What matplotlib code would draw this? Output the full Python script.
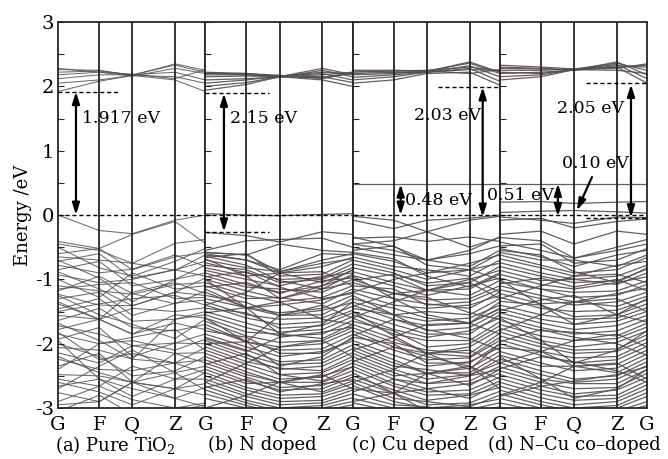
import matplotlib
matplotlib.use("Agg")
import matplotlib.pyplot as plt
from matplotlib.ticker import MultipleLocator

plt.rcParams['font.family'] = ['DejaVu Serif']
plt.rcParams['mathtext.fontset'] = 'dejavuserif'
plt.rcParams['axes.unicode_minus'] = False

# high-symmetry path, fractional position inside each panel
kpath = [0.0, 0.28, 0.505, 0.795, 1.0]
klabels = ['G', 'F', 'Q', 'Z', 'G']
titles = ['(a) Pure TiO$_{2}$', '(b) N doped', '(c) Cu deped', '(d) N\u2013Cu co\u2013doped']

# band energies (eV) at G, F, Q, Z, G
valence_a = [
    [0.00, -0.24, -0.29, -0.08, 0.00], [-0.41, -0.52, -0.30, -0.10, -0.44],
    [-0.45, -0.55, -0.75, -0.44, -0.38], [-0.60, -0.52, -0.85, -0.65, -0.58],
    [-0.65, -0.70, -0.75, -0.86, -0.62], [-0.72, -0.60, -0.98, -0.85, -0.72],
    [-0.78, -0.90, -0.84, -0.62, -0.80], [-0.85, -0.72, -1.10, -1.00, -0.90],
    [-0.93, -1.05, -1.00, -0.85, -0.95], [-1.10, -1.18, -1.23, -1.08, -1.05],
    [-1.18, -0.95, -1.22, -1.38, -1.18], [-1.23, -1.40, -1.41, -1.20, -1.25],
    [-1.30, -1.20, -1.56, -1.37, -1.32], [-1.38, -1.62, -1.45, -1.50, -1.44],
    [-1.46, -1.30, -1.65, -1.62, -1.50], [-1.56, -1.62, -1.85, -1.55, -1.60],
    [-1.64, -1.45, -1.75, -1.80, -1.70], [-1.72, -1.85, -2.03, -1.99, -1.85],
    [-1.78, -1.62, -1.85, -1.68, -1.78], [-1.85, -2.00, -1.95, -2.10, -1.93],
    [-1.93, -1.75, -2.20, -1.99, -2.00], [-2.06, -2.10, -2.24, -2.30, -2.06],
    [-2.14, -2.30, -2.03, -2.15, -2.14], [-2.24, -2.40, -2.42, -2.30, -2.25],
    [-2.35, -2.15, -2.60, -2.45, -2.35], [-2.48, -2.50, -2.60, -2.70, -2.45],
    [-2.55, -2.66, -2.35, -2.55, -2.55], [-2.66, -2.55, -2.70, -2.85, -2.68],
    [-2.76, -2.90, -2.60, -2.70, -2.80], [-2.90, -2.66, -2.87, -3.00, -2.92],
    [-2.95, -2.90, -2.60, -2.85, -2.98], [-1.00, -1.28, -0.90, -1.15, -1.10],
    [-0.50, -0.82, -0.95, -0.72, -0.52], [-1.50, -1.38, -1.30, -1.25, -1.40],
    [-2.00, -2.20, -2.50, -2.42, -2.20], [-2.60, -2.75, -2.95, -2.70, -2.62],
    [-1.25, -1.55, -1.70, -1.92, -1.62], [-1.82, -2.25, -2.15, -2.30, -2.46],
    [-2.40, -2.00, -1.90, -1.78, -2.10], [-3.05, -2.80, -3.10, -3.05, -2.95],
    [-0.70, -0.98, -1.35, -1.00, -0.78], [-1.15, -1.08, -1.05, -1.30, -1.28],
    [-1.35, -1.62, -1.20, -1.05, -1.22], [-1.68, -1.95, -2.24, -1.62, -1.55],
    [-2.20, -2.45, -2.60, -2.15, -2.30], [-2.70, -2.35, -2.10, -2.45, -2.72],
    [-0.88, -1.15, -1.41, -1.20, -0.98], [-1.95, -2.55, -2.82, -2.55, -2.40],
]
conduction_a = [
    [1.92, 2.08, 2.17, 2.10, 1.92], [2.05, 2.10, 2.17, 2.15, 2.05],
    [2.12, 2.18, 2.18, 2.22, 2.10], [2.18, 2.22, 2.16, 2.28, 2.20],
    [2.22, 2.24, 2.18, 2.33, 2.22], [2.26, 2.25, 2.17, 2.35, 2.25],
    [2.28, 2.22, 2.19, 2.12, 2.26],
]

valence_b = [
    [0.02, 0.00, -0.01, 0.01, 0.02], [-0.27, -0.32, -0.42, -0.26, -0.30],
    [-0.55, -0.40, -0.38, -0.36, -0.50], [-0.58, -0.62, -0.45, -0.55, -0.58],
    [-0.60, -0.70, -0.85, -0.60, -0.62],
    [-0.58, -0.62, -0.88, -0.70, -0.60], [-0.62, -0.70, -0.90, -0.80, -0.66],
    [-0.66, -0.60, -0.95, -0.92, -0.70], [-0.70, -0.82, -0.88, -0.75, -0.68],
    [-0.74, -0.90, -1.00, -0.98, -0.76], [-0.78, -0.85, -1.05, -1.00, -0.82],
    [-0.82, -0.95, -0.90, -1.05, -0.86], [-0.86, -1.00, -1.10, -0.95, -0.90],
    [-0.90, -1.08, -1.20, -1.10, -0.95], [-0.95, -1.12, -1.15, -1.20, -1.00],
    [-1.00, -1.18, -1.30, -1.15, -1.05], [-1.05, -1.25, -1.35, -1.28, -1.10],
    [-1.10, -1.30, -1.28, -1.38, -1.15], [-1.15, -1.44, -1.40, -1.32, -1.20],
    [-1.20, -1.44, -1.52, -1.45, -1.25], [-1.25, -1.36, -1.56, -1.55, -1.30],
    [-1.30, -1.44, -1.56, -1.48, -1.36], [-1.35, -1.55, -1.62, -1.60, -1.42],
    [-1.40, -1.60, -1.70, -1.66, -1.48], [-1.45, -1.52, -1.76, -1.72, -1.52],
    [-1.50, -1.68, -1.82, -1.78, -1.58], [-1.55, -1.75, -1.88, -1.85, -1.64],
    [-1.60, -1.82, -1.85, -1.92, -1.70], [-1.65, -1.88, -1.98, -1.95, -1.75],
    [-1.70, -1.97, -2.05, -2.00, -1.80], [-1.75, -1.97, -2.10, -2.08, -1.86],
    [-1.80, -1.90, -2.15, -2.15, -1.92], [-1.85, -2.05, -2.20, -2.12, -1.96],
    [-1.90, -2.10, -2.28, -2.25, -2.02], [-1.95, -2.18, -2.32, -2.30, -2.08],
    [-2.00, -2.22, -2.40, -2.35, -2.14], [-2.05, -2.28, -2.38, -2.42, -2.20],
    [-2.10, -2.32, -2.48, -2.45, -2.25], [-2.15, -2.38, -2.55, -2.52, -2.30],
    [-2.20, -2.44, -2.60, -2.50, -2.36], [-2.25, -2.48, -2.60, -2.60, -2.42],
    [-2.30, -2.52, -2.68, -2.65, -2.48], [-2.35, -2.58, -2.72, -2.70, -2.52],
    [-2.40, -2.62, -2.60, -2.75, -2.58], [-2.45, -2.68, -2.80, -2.78, -2.62],
    [-2.50, -2.72, -2.85, -2.82, -2.68], [-2.55, -2.78, -2.90, -2.88, -2.72],
    [-2.60, -2.82, -2.95, -2.92, -2.78], [-2.66, -2.88, -3.00, -2.96, -2.84],
    [-2.72, -2.92, -3.05, -3.00, -2.90], [-2.78, -2.96, -3.08, -3.04, -2.95],
    [-2.85, -3.00, -3.10, -3.08, -3.00],
    [-2.00, -1.97, -1.56, -1.40, -1.60], [-1.40, -1.20, -0.90, -0.88, -1.10],
    [-2.60, -2.30, -2.05, -1.95, -2.20], [-1.00, -1.44, -1.85, -1.70, -1.35],
    [-3.00, -2.80, -2.60, -2.48, -2.70], [-1.60, -1.97, -2.35, -2.20, -1.90],
    [-0.68, -0.95, -1.30, -1.10, -0.85], [-0.64, -0.78, -1.02, -1.15, -0.92],
    [-1.12, -1.05, -1.22, -1.02, -0.98], [-1.52, -1.44, -1.35, -1.62, -1.70],
    [-1.92, -2.12, -1.90, -1.82, -1.74], [-2.32, -2.15, -2.48, -2.58, -2.36],
    [-2.68, -2.55, -2.75, -2.62, -2.56], [-0.96, -0.88, -1.12, -1.30, -1.22],
]
conduction_b = [
    [1.94, 2.03, 2.15, 2.10, 2.00], [2.00, 2.06, 2.15, 2.15, 2.06],
    [2.05, 2.10, 2.16, 2.20, 2.10], [2.10, 2.12, 2.14, 2.25, 2.15],
    [2.15, 2.16, 2.15, 2.28, 2.18], [2.18, 2.18, 2.16, 2.22, 2.20],
    [2.20, 2.20, 2.15, 2.18, 2.22], [2.22, 2.20, 2.17, 2.12, 2.22],
    [2.21, 2.19, 2.16, 2.14, 2.21], [2.21, 2.18, 2.17, 2.13, 2.20],
]

valence_c = [
    [0.48, 0.48, 0.48, 0.48, 0.48],
    [-0.02, -0.08, -0.26, -0.08, -0.02], [-0.08, -0.21, -0.08, -0.05, 0.00],
    [-0.45, -0.40, -0.26, -0.50, -0.35], [-0.34, -0.49, -0.70, -0.55, -0.34],
    [-0.36, -0.34, -0.41, -0.34, -0.41],
    [-0.45, -0.55, -0.70, -0.60, -0.48], [-0.50, -0.62, -0.70, -0.80, -0.55],
    [-0.55, -0.48, -0.78, -0.85, -0.60], [-0.60, -0.72, -0.90, -0.75, -0.62],
    [-0.65, -0.80, -0.85, -0.95, -0.70], [-0.70, -0.85, -1.00, -0.85, -0.75],
    [-0.76, -0.90, -1.10, -1.05, -0.80], [-0.82, -0.95, -1.17, -1.00, -0.86],
    [-0.88, -1.05, -1.17, -1.15, -0.92], [-0.94, -1.10, -1.25, -1.10, -0.98],
    [-1.00, -1.22, -1.17, -1.25, -1.02], [-1.05, -1.22, -1.32, -1.30, -1.10],
    [-1.10, -1.15, -1.40, -1.35, -1.15], [-1.15, -1.30, -1.38, -1.45, -1.20],
    [-1.20, -1.40, -1.45, -1.40, -1.25], [-1.25, -1.55, -1.50, -1.55, -1.30],
    [-1.30, -1.45, -1.60, -1.68, -1.35], [-1.35, -1.55, -1.65, -1.60, -1.40],
    [-1.40, -1.62, -1.72, -1.68, -1.46], [-1.45, -1.55, -1.80, -1.75, -1.50],
    [-1.50, -1.70, -1.85, -1.85, -1.55], [-1.55, -1.78, -1.90, -1.80, -1.60],
    [-1.60, -1.85, -1.95, -1.95, -1.66], [-1.65, -1.80, -2.05, -2.00, -1.72],
    [-1.70, -1.92, -2.15, -2.05, -1.78], [-1.75, -1.98, -2.10, -2.15, -1.84],
    [-1.80, -2.05, -2.15, -2.20, -1.90], [-1.85, -2.10, -2.25, -2.22, -1.95],
    [-1.90, -2.00, -2.30, -2.30, -2.00], [-1.95, -2.18, -2.35, -2.28, -2.06],
    [-2.00, -2.25, -2.46, -2.38, -2.12], [-2.05, -2.30, -2.46, -2.45, -2.18],
    [-2.10, -2.35, -2.40, -2.50, -2.24], [-2.15, -2.40, -2.55, -2.48, -2.30],
    [-2.20, -2.45, -2.62, -2.58, -2.35], [-2.25, -2.50, -2.46, -2.65, -2.40],
    [-2.30, -2.55, -2.70, -2.62, -2.46], [-2.35, -2.62, -2.75, -2.72, -2.52],
    [-2.40, -2.66, -2.80, -2.78, -2.58], [-2.45, -2.77, -2.70, -2.85, -2.62],
    [-2.50, -2.72, -2.88, -2.80, -2.68], [-2.55, -2.77, -2.95, -2.92, -2.74],
    [-2.60, -2.85, -2.90, -2.98, -2.80], [-2.65, -2.90, -3.00, -2.95, -2.86],
    [-2.70, -2.77, -3.05, -3.02, -2.92], [-2.78, -2.95, -2.98, -3.08, -2.98],
    [-2.85, -3.00, -3.10, -3.05, -3.02], [-2.92, -3.05, -3.10, -3.10, -3.06],
    [-1.20, -1.00, -0.90, -0.85, -1.00], [-1.60, -1.35, -1.17, -1.05, -1.30],
    [-2.10, -1.90, -1.70, -1.68, -1.85], [-2.60, -2.40, -2.15, -2.10, -2.30],
    [-2.90, -2.77, -2.46, -2.35, -2.70], [-0.95, -1.30, -1.55, -1.68, -1.45],
    [-1.50, -1.88, -2.15, -2.40, -2.00], [-0.58, -0.68, -0.95, -1.12, -0.90],
    [-1.02, -0.92, -1.06, -0.98, -1.20], [-1.42, -1.22, -1.28, -1.52, -1.62],
    [-1.88, -1.62, -1.78, -1.92, -2.10], [-2.28, -2.05, -2.20, -2.35, -2.55],
    [-2.75, -2.55, -2.62, -2.50, -2.40],
]
conduction_c = [
    [2.05, 2.10, 2.20, 2.22, 2.02], [2.10, 2.15, 2.22, 2.28, 2.08],
    [2.14, 2.18, 2.22, 2.32, 2.15], [2.18, 2.20, 2.24, 2.36, 2.20],
    [2.20, 2.22, 2.23, 2.38, 2.22], [2.22, 2.24, 2.25, 2.30, 2.24],
    [2.24, 2.22, 2.22, 2.26, 2.25], [2.25, 2.25, 2.24, 2.20, 2.26],
]

valence_d = [
    [0.49, 0.49, 0.49, 0.49, 0.49], [0.20, 0.21, 0.18, 0.20, 0.21],
    [0.04, 0.06, 0.07, 0.05, 0.03],
    [-0.03, -0.08, -0.13, -0.03, -0.04], [-0.08, -0.05, -0.20, -0.10, -0.06],
    [-0.30, -0.25, -0.45, -0.25, -0.30], [-0.35, -0.40, -0.67, -0.50, -0.38],
    [-0.42, -0.55, -0.67, -0.55, -0.45], [-0.48, -0.45, -0.75, -0.70, -0.52],
    [-0.52, -0.65, -0.80, -0.62, -0.55], [-0.58, -0.70, -0.70, -0.80, -0.62],
    [-0.62, -0.78, -0.90, -0.85, -0.66], [-0.68, -0.82, -0.95, -0.78, -0.72],
    [-0.74, -0.90, -1.00, -0.95, -0.78], [-0.80, -0.95, -1.05, -1.02, -0.84],
    [-0.86, -1.02, -1.00, -1.08, -0.90], [-0.92, -1.08, -1.15, -1.05, -0.96],
    [-0.98, -1.15, -1.20, -1.18, -1.02], [-1.04, -1.15, -1.28, -1.25, -1.08],
    [-1.10, -1.25, -1.35, -1.22, -1.14], [-1.16, -1.30, -1.40, -1.35, -1.20],
    [-1.22, -1.38, -1.35, -1.42, -1.26], [-1.28, -1.45, -1.50, -1.48, -1.32],
    [-1.34, -1.40, -1.58, -1.55, -1.38], [-1.40, -1.55, -1.62, -1.60, -1.44],
    [-1.46, -1.62, -1.70, -1.65, -1.50], [-1.52, -1.68, -1.78, -1.72, -1.56],
    [-1.58, -1.75, -1.85, -1.80, -1.62], [-1.64, -1.80, -1.82, -1.88, -1.68],
    [-1.70, -1.88, -1.95, -1.92, -1.74], [-1.76, -1.95, -2.05, -1.98, -1.80],
    [-1.82, -2.00, -2.10, -2.08, -1.86], [-1.88, -2.05, -2.15, -2.12, -1.92],
    [-1.94, -2.12, -2.22, -2.20, -1.98], [-2.00, -2.18, -2.30, -2.25, -2.04],
    [-2.06, -2.12, -2.35, -2.32, -2.10], [-2.12, -2.30, -2.42, -2.38, -2.16],
    [-2.18, -2.35, -2.35, -2.45, -2.22], [-2.24, -2.42, -2.55, -2.50, -2.28],
    [-2.30, -2.48, -2.60, -2.55, -2.34], [-2.36, -2.55, -2.62, -2.62, -2.40],
    [-2.42, -2.60, -2.70, -2.68, -2.46], [-2.48, -2.66, -2.78, -2.72, -2.52],
    [-2.54, -2.72, -2.82, -2.80, -2.58], [-2.60, -2.78, -2.88, -2.85, -2.64],
    [-2.66, -2.84, -2.95, -2.90, -2.70], [-2.72, -2.90, -3.00, -2.96, -2.76],
    [-2.78, -2.95, -3.05, -3.00, -2.82], [-2.85, -3.00, -3.08, -3.05, -2.90],
    [-2.92, -3.05, -3.10, -3.08, -2.96],
    [-1.30, -1.10, -0.95, -0.92, -1.05], [-1.80, -1.55, -1.35, -1.30, -1.50],
    [-2.30, -2.12, -1.95, -1.85, -2.05], [-2.80, -2.60, -2.35, -2.30, -2.55],
    [-1.00, -1.40, -1.70, -1.55, -1.30], [-1.60, -1.95, -2.30, -2.10, -1.80],
    [-2.20, -2.55, -2.85, -2.70, -2.40], [-0.55, -0.62, -0.88, -1.05, -0.82],
    [-1.07, -0.98, -1.12, -1.00, -1.18], [-1.49, -1.32, -1.25, -1.55, -1.66],
    [-1.97, -1.78, -1.90, -2.00, -2.18], [-2.39, -2.20, -2.28, -2.42, -2.60],
    [-2.82, -2.66, -2.58, -2.48, -2.36],
]
conduction_d = [
    [2.10, 2.15, 2.26, 2.30, 2.05], [2.15, 2.18, 2.26, 2.34, 2.12],
    [2.20, 2.22, 2.25, 2.38, 2.18], [2.25, 2.25, 2.27, 2.36, 2.25],
    [2.28, 2.27, 2.26, 2.32, 2.30], [2.30, 2.28, 2.25, 2.30, 2.33],
    [2.33, 2.30, 2.27, 2.28, 2.35], [2.22, 2.20, 2.26, 2.25, 2.20],
]

panels = [(valence_a, conduction_a), (valence_b, conduction_b),
          (valence_c, conduction_c), (valence_d, conduction_d)]
band_widths = [0.75, 0.9, 0.9, 0.9]
band_alphas = [0.85, 0.92, 0.92, 0.92]

band_color = '#575050'
frame_color = '#262626'

fig = plt.figure(figsize=(6.68, 4.59), dpi=100)
axes = fig.subplots(1, 4, sharey=True, gridspec_kw=dict(wspace=0))
fig.subplots_adjust(left=0.0868, right=0.9686, bottom=0.111, top=0.952)

for i, (ax, (vb, cb)) in enumerate(zip(axes, panels)):
    for band in vb + cb:
        ax.plot(kpath, band, color=band_color, lw=band_widths[i],
                alpha=band_alphas[i], zorder=1)
    for xk in kpath[1:-1]:
        ax.axvline(xk, color=frame_color, lw=1.3, zorder=3)
    ax.axhline(0, 0, 1, color='black', lw=1.0, ls=(0, (3, 2)), zorder=4)
    ax.set_xlim(0, 1)
    ax.set_ylim(-3, 3)
    for sp in ax.spines.values():
        sp.set_color(frame_color)
        sp.set_linewidth(1.3)
    ax.yaxis.set_major_locator(MultipleLocator(1))
    ax.yaxis.set_minor_locator(MultipleLocator(0.5))
    ax.tick_params(axis='y', which='both', direction='in', length=4,
                   width=0.8, color=frame_color, labelsize=14, pad=3)
    if i == 0:
        ax.set_xticks(kpath)
        ax.set_xticklabels(klabels)
    else:
        ax.set_xticks(kpath[1:])
        ax.set_xticklabels(klabels[1:])
    ax.tick_params(axis='x', length=0, labelsize=14, pad=6)

axes[0].set_ylabel('Energy /eV', fontsize=13, labelpad=2)

dash = dict(color='black', lw=1.0, ls=(0, (3, 2)), zorder=4)
dbl = dict(arrowstyle='<|-|>,head_length=0.7,head_width=0.22', color='black',
           lw=1.6, shrinkA=0, shrinkB=0)
txt = dict(fontsize=12.5, va='center', zorder=6)

# (a)
ax = axes[0]
ax.plot([0.0, 0.415], [1.917, 1.917], **dash)
ax.annotate('', xy=(0.122, 1.917), xytext=(0.122, 0.0), arrowprops=dbl, zorder=5)
ax.text(0.16, 1.50, '1.917 eV', ha='left', **txt)

# (b)
ax = axes[1]
ax.plot([0.0, 0.43], [1.89, 1.89], **dash)
ax.plot([0.0, 0.43], [-0.26, -0.26], **dash)
ax.annotate('', xy=(0.127, 1.89), xytext=(0.127, -0.26), arrowprops=dbl, zorder=5)
ax.text(0.165, 1.50, '2.15 eV', ha='left', **txt)

# (c)
ax = axes[2]
ax.plot([0.578, 1.0], [1.99, 1.99], **dash)
ax.annotate('', xy=(0.884, 1.99), xytext=(0.884, -0.03), arrowprops=dbl, zorder=5)
ax.text(0.87, 1.55, '2.03 eV', ha='right', **txt)
ax.annotate('', xy=(0.327, 0.48), xytext=(0.327, 0.0), arrowprops=dbl, zorder=5)
ax.text(0.355, 0.23, '0.48 eV', ha='left', **txt)

# (d)
ax = axes[3]
ax.plot([0.585, 1.0], [2.05, 2.05], **dash)
ax.plot([0.585, 1.0], [-0.04, -0.04], **dash)
ax.annotate('', xy=(0.891, 2.03), xytext=(0.891, -0.04), arrowprops=dbl, zorder=5)
ax.text(0.39, 1.66, '2.05 eV', ha='left', **txt)
ax.annotate('', xy=(0.395, 0.49), xytext=(0.395, -0.02), arrowprops=dbl, zorder=5)
ax.text(0.365, 0.31, '0.51 eV', ha='right', clip_on=False, **txt)
ax.text(0.425, 0.80, '0.10 eV', ha='left', **txt)
ax.annotate('', xy=(0.524, 0.07), xytext=(0.626, 0.59),
            arrowprops=dict(arrowstyle='-|>,head_length=0.7,head_width=0.22',
                            color='black', lw=1.6, shrinkA=0, shrinkB=0), zorder=5)

# panel captions
caption_x = [115, 262, 410, 574]
for cx, t in zip(caption_x, titles):
    fig.text(cx / 668, 1 - 445 / 459, t, ha='center', va='center', fontsize=13)

fig.savefig('out.png', dpi=100)
